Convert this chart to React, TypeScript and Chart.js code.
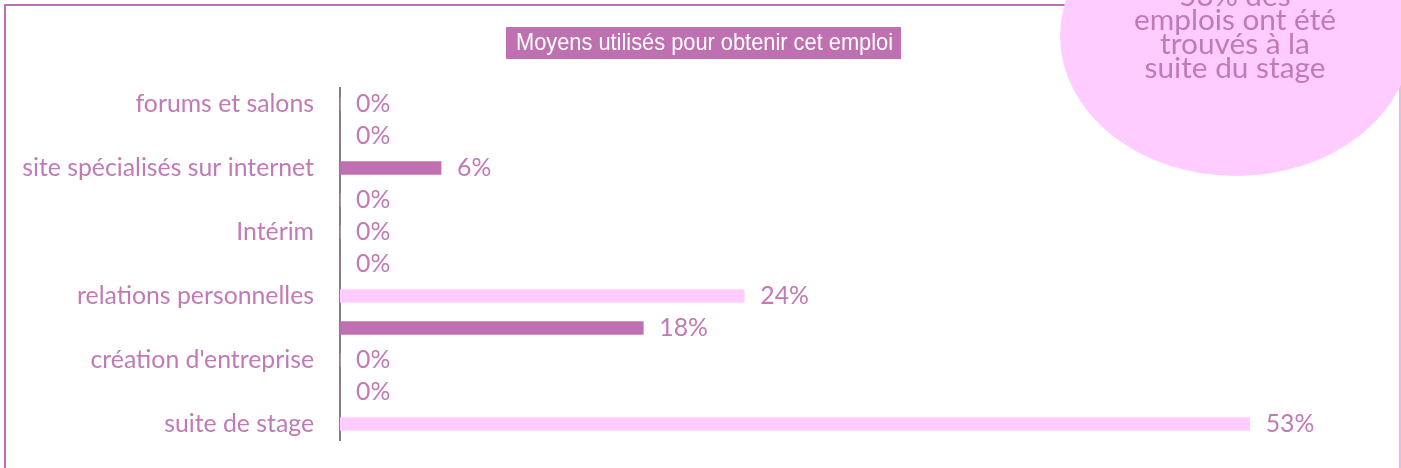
import React, { useEffect, useRef } from 'react';
import { Chart, registerables } from 'chart.js';

Chart.register(...registerables);

// ---- data ----
const categories = [
  'forums et salons',
  '',
  'site spécialisés sur internet',
  '',
  'Intérim',
  '',
  'relations personnelles',
  '',
  "création d'entreprise",
  '',
  'suite de stage',
];
const values = [0, 0, 0.0588, 0, 0, 0, 0.2353, 0.1765, 0, 0, 0.5294];
const barColors = [
  '#FFCCFF', '#BF70B0', '#BF70B0', '#FFCCFF', '#FFCCFF', '#BF70B0',
  '#FFCCFF', '#BF70B0', '#FFCCFF', '#BF70B0', '#FFCCFF',
];
const titleText = 'Moyens utilisés pour obtenir cet emploi';
const bubbleLines = ['53% des', 'emplois ont été', 'trouvés à la', 'suite du stage'];

const PINK = '#BF70B0';
const TEXT_PINK = '#C17AB7';
const LIGHT = '#FFCCFF';
const FONT = "Lato, 'Open Sans', sans-serif";

function fitSize(text: string, family: string, target: number): number {
  const c = document.createElement('canvas').getContext('2d')!;
  c.font = `100px ${family}`;
  const w = c.measureText(text).width;
  return (100 * target) / w;
}

export default function App() {
  const ref = useRef<HTMLCanvasElement | null>(null);

  useEffect(() => {
    const canvas = ref.current;
    if (!canvas) return;
    const labelSize = fitSize('site spécialisés sur internet', FONT, 292);
    const bubbleSize = fitSize('emplois ont été', FONT, 202);

    const decor = {
      id: 'decor',
      beforeDraw(chart: any) {
        const ctx = chart.ctx as CanvasRenderingContext2D;
        ctx.save();
        ctx.fillStyle = '#ffffff';
        ctx.fillRect(0, 0, chart.width, chart.height);
        // frame
        ctx.strokeStyle = PINK;
        ctx.lineWidth = 2;
        ctx.beginPath();
        ctx.moveTo(5, 468);
        ctx.lineTo(5, 5);
        ctx.lineTo(1300, 5);
        ctx.stroke();
        ctx.strokeStyle = '#DDA6D6';
        ctx.lineWidth = 1.5;
        ctx.beginPath();
        ctx.moveTo(1400, 0);
        ctx.lineTo(1400, 468);
        ctx.stroke();
        // bubble
        ctx.fillStyle = LIGHT;
        ctx.beginPath();
        ctx.ellipse(1236, 36, 176, 140, 0, 0, Math.PI * 2);
        ctx.fill();
        ctx.fillStyle = TEXT_PINK;
        ctx.font = `${bubbleSize}px ${FONT}`;
        ctx.textAlign = 'center';
        ctx.textBaseline = 'alphabetic';
        bubbleLines.forEach((line, i) => {
          ctx.fillText(line, 1235, 6 + i * 24);
        });
        // title
        ctx.fillStyle = PINK;
        ctx.fillRect(506, 27, 395, 32);
        ctx.font = "24px 'Liberation Sans', Arial, sans-serif";
        const w = ctx.measureText(titleText).width;
        ctx.translate(704.5, 43.5);
        ctx.scale(377 / w, 1);
        ctx.fillStyle = '#ffffff';
        ctx.textAlign = 'center';
        ctx.textBaseline = 'middle';
        ctx.fillText(titleText, 0, 0);
        ctx.restore();
      },
      afterDatasetsDraw(chart: any) {
        const ctx = chart.ctx as CanvasRenderingContext2D;
        const meta = chart.getDatasetMeta(0);
        ctx.save();
        ctx.fillStyle = TEXT_PINK;
        ctx.font = `${labelSize}px ${FONT}`;
        ctx.textAlign = 'left';
        ctx.textBaseline = 'middle';
        meta.data.forEach((el: any, i: number) => {
          ctx.fillText(Math.round(values[i] * 100) + '%', el.x + 16, el.y);
        });
        ctx.restore();
      },
    };

    const chart = new Chart(canvas, {
      type: 'bar',
      data: {
        labels: categories,
        datasets: [
          {
            data: values,
            backgroundColor: barColors,
            borderWidth: 0,
            barThickness: 13,
          },
        ],
      },
      options: {
        indexAxis: 'y',
        responsive: false,
        animation: false,
        devicePixelRatio: 1,
        layout: { padding: { top: 88, bottom: 28, left: 0, right: 30 } },
        plugins: {
          legend: { display: false },
          tooltip: { enabled: false },
          title: { display: false },
        },
        scales: {
          x: { display: false, min: 0, max: 0.6 },
          y: {
            grid: { display: false, drawTicks: false },
            border: { display: true, color: '#808080', width: 2 },
            ticks: {
              color: TEXT_PINK,
              font: { family: FONT, size: labelSize },
              padding: 26,
              autoSkip: false,
            },
            afterFit: (s: any) => {
              s.width = 340;
              s.paddingTop = 0;
              s.paddingBottom = 0;
            },
          },
        },
      } as any,
      plugins: [decor],
    });
    return () => chart.destroy();
  }, []);

  return (
    <div style={{ position: 'fixed', left: 0, top: 0, width: 1401, height: 468, background: '#fff' }}>
      <canvas ref={ref} width={1401} height={468} style={{ display: 'block' }} />
    </div>
  );
}
